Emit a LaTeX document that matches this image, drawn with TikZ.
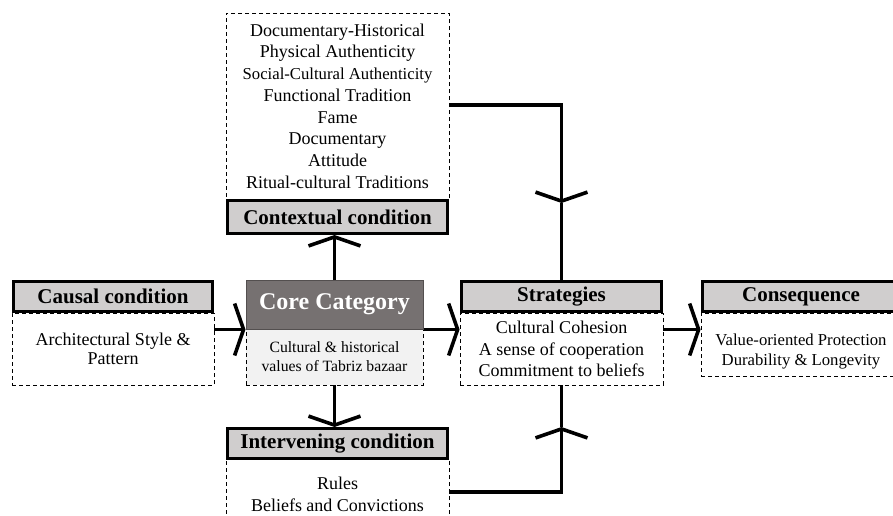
\documentclass[tikz,border=0pt]{standalone}
\usepackage{fontspec}
\setmainfont{Liberation Serif}
\usetikzlibrary{arrows.meta}
\definecolor{hdrgray}{RGB}{208,206,206}
\definecolor{coregray}{RGB}{118,113,113}
\definecolor{corebody}{RGB}{242,242,242}
\begin{document}
\begin{tikzpicture}[x=1pt,y=-1pt,
  hdr/.style={draw=black, line width=3pt, fill=hdrgray, inner sep=0pt,
    font=\fontsize{21}{24}\selectfont\bfseries},
  bodybox/.style={draw=black, line width=0.9pt, dash pattern=on 4pt off 3pt,
    fill=white, inner sep=0pt, align=center,
    font=\fontsize{18}{21.7}\selectfont},
  conn/.style={line width=3.6pt, -{Straight Barb[length=9pt,width=52pt]}},
  wire/.style={line width=3.6pt}]
\useasboundingbox (0,0) rectangle (893,515);
\clip (0,0) rectangle (893,515);

% bodies
\node[bodybox, minimum width=223pt, minimum height=186pt] (ctxB) at (337.5,106)
  {Documentary-Historical\\
   Physical Authenticity\\
   {\fontsize{16.7}{21.7}\selectfont Social-Cultural Authenticity}\\
   Functional Tradition\\
   Fame\\
   Documentary\\
   Attitude\\
   Ritual-cultural Traditions};
\node[bodybox, minimum width=202pt, minimum height=72pt,
  font=\fontsize{18}{18.5}\selectfont] (cauB) at (113,349)
  {Architectural Style \&\\ Pattern};
\node[bodybox, fill=corebody, minimum width=177pt, minimum height=56pt,
  font=\fontsize{15.7}{19}\selectfont] (coreB) at (334.5,357)
  {Cultural \& historical\\ values of Tabriz bazaar};
\node[bodybox, minimum width=203pt, minimum height=72pt] (stB) at (561.5,349)
  {Cultural Cohesion\\ A sense of cooperation\\ Commitment to beliefs};
\node[bodybox, minimum width=200pt, minimum height=63pt] (conB) at (801,344.5) {};
\node[align=center, inner sep=0pt, font=\fontsize{16.7}{19.5}\selectfont] (conT) at (801,351.5)
  {Value-oriented Protection\\ Durability \& Longevity};
\node[bodybox, minimum width=223pt, minimum height=70pt] (intB) at (337.5,494)
  {Rules\\ Beliefs and Convictions};

% headers
\node[hdr, minimum width=220pt, minimum height=33pt] (ctxH) at (337.5,217) {Contextual condition};
\node[hdr, minimum width=199pt, minimum height=30pt] (cauH) at (113,296.5) {Causal condition};
\node[draw=coregray!70!black, line width=1pt, fill=coregray, text=white, inner sep=0pt,
  minimum width=177pt, minimum height=49pt,
  font=\fontsize{24}{28}\selectfont\bfseries] (coreH) at (334.5,304.5) {Core Category};
\node[hdr, minimum width=200pt, minimum height=30pt] (stH) at (561.5,296.5) {Strategies};
\node[hdr, minimum width=197pt, minimum height=30pt] (conH) at (801,296.5) {Consequence};
\node[hdr, minimum width=220pt, minimum height=30pt] (intH) at (337.5,443.5) {Intervening condition};

% helper coordinates
\coordinate (y105) at (0,105);
\coordinate (y203) at (0,203);
\coordinate (y427) at (0,427);
\coordinate (y492) at (0,492);
\coordinate (m1) at (stH.north |- y203);
\coordinate (m2) at (stB.south |- y427);

% connectors
\draw[conn] (cauB.east |- coreH.south) -- (coreH.south west);
\draw[conn] (coreH.south east) -- (stB.west |- coreH.south);
\draw[conn] (stB.east |- coreH.south) -- (conB.west |- coreH.south);
\draw[conn] (coreH.north) -- (ctxH.south -| coreH.north);
\draw[conn] (coreB.south) -- (intH.north -| coreB.south);
\draw[conn] (ctxB.east |- y105) -| (m1);
\draw[wire] (m1) -- (stH.north);
\draw[conn] (intB.east |- y492) -| (m2);
\draw[wire] (m2) -- (stB.south);
\end{tikzpicture}
\end{document}
